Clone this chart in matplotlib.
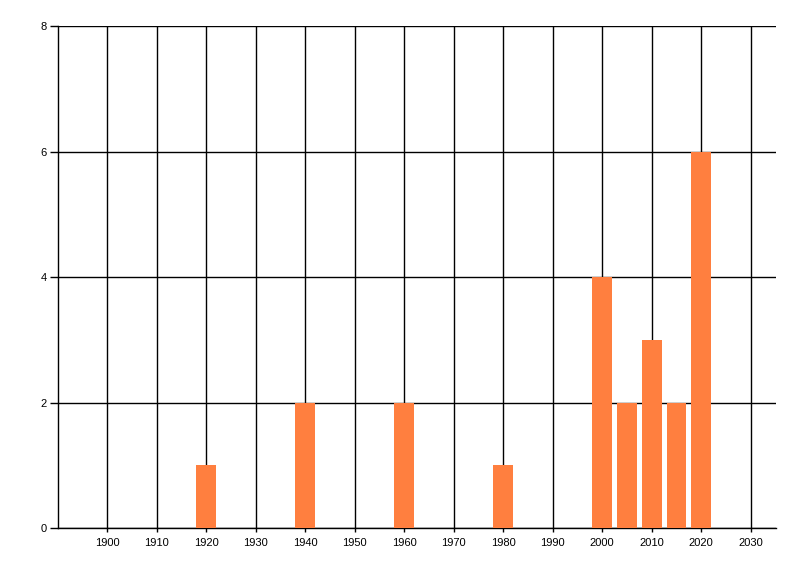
import matplotlib
matplotlib.use('Agg')
import matplotlib.pyplot as plt

# decade / year of each bar and its count
years = [1920, 1940, 1960, 1980, 2000, 2005, 2010, 2015, 2020]
counts = [1, 2, 2, 1, 4, 2, 3, 2, 6]
x_ticks = list(range(1900, 2031, 10))
y_ticks = [0, 2, 4, 6, 8]

plt.rcParams['font.family'] = ['Liberation Sans', 'DejaVu Sans']

fig = plt.figure(figsize=(8, 5.76), dpi=100)
ax = fig.add_axes([0.0721, 0.0833, 0.8973, 0.8707])

ax.bar(years, counts, width=4, color='#FF7F3F', zorder=3)

ax.set_xlim(1890, 2035)
ax.set_ylim(0, 8)
ax.set_xticks(x_ticks)
ax.set_yticks(y_ticks)
ax.grid(True, color='black', linewidth=1.0, zorder=1)
ax.set_axisbelow(True)

for side in ['top', 'right']:
    ax.spines[side].set_visible(False)
for side in ['left', 'bottom']:
    ax.spines[side].set_linewidth(1.0)
    ax.spines[side].set_color('black')

ax.tick_params(axis='y', length=6, width=1.0, labelsize=8, pad=2)
ax.tick_params(axis='x', length=3, width=1.0, labelsize=8, pad=4)

fig.savefig('out.png', dpi=100)
